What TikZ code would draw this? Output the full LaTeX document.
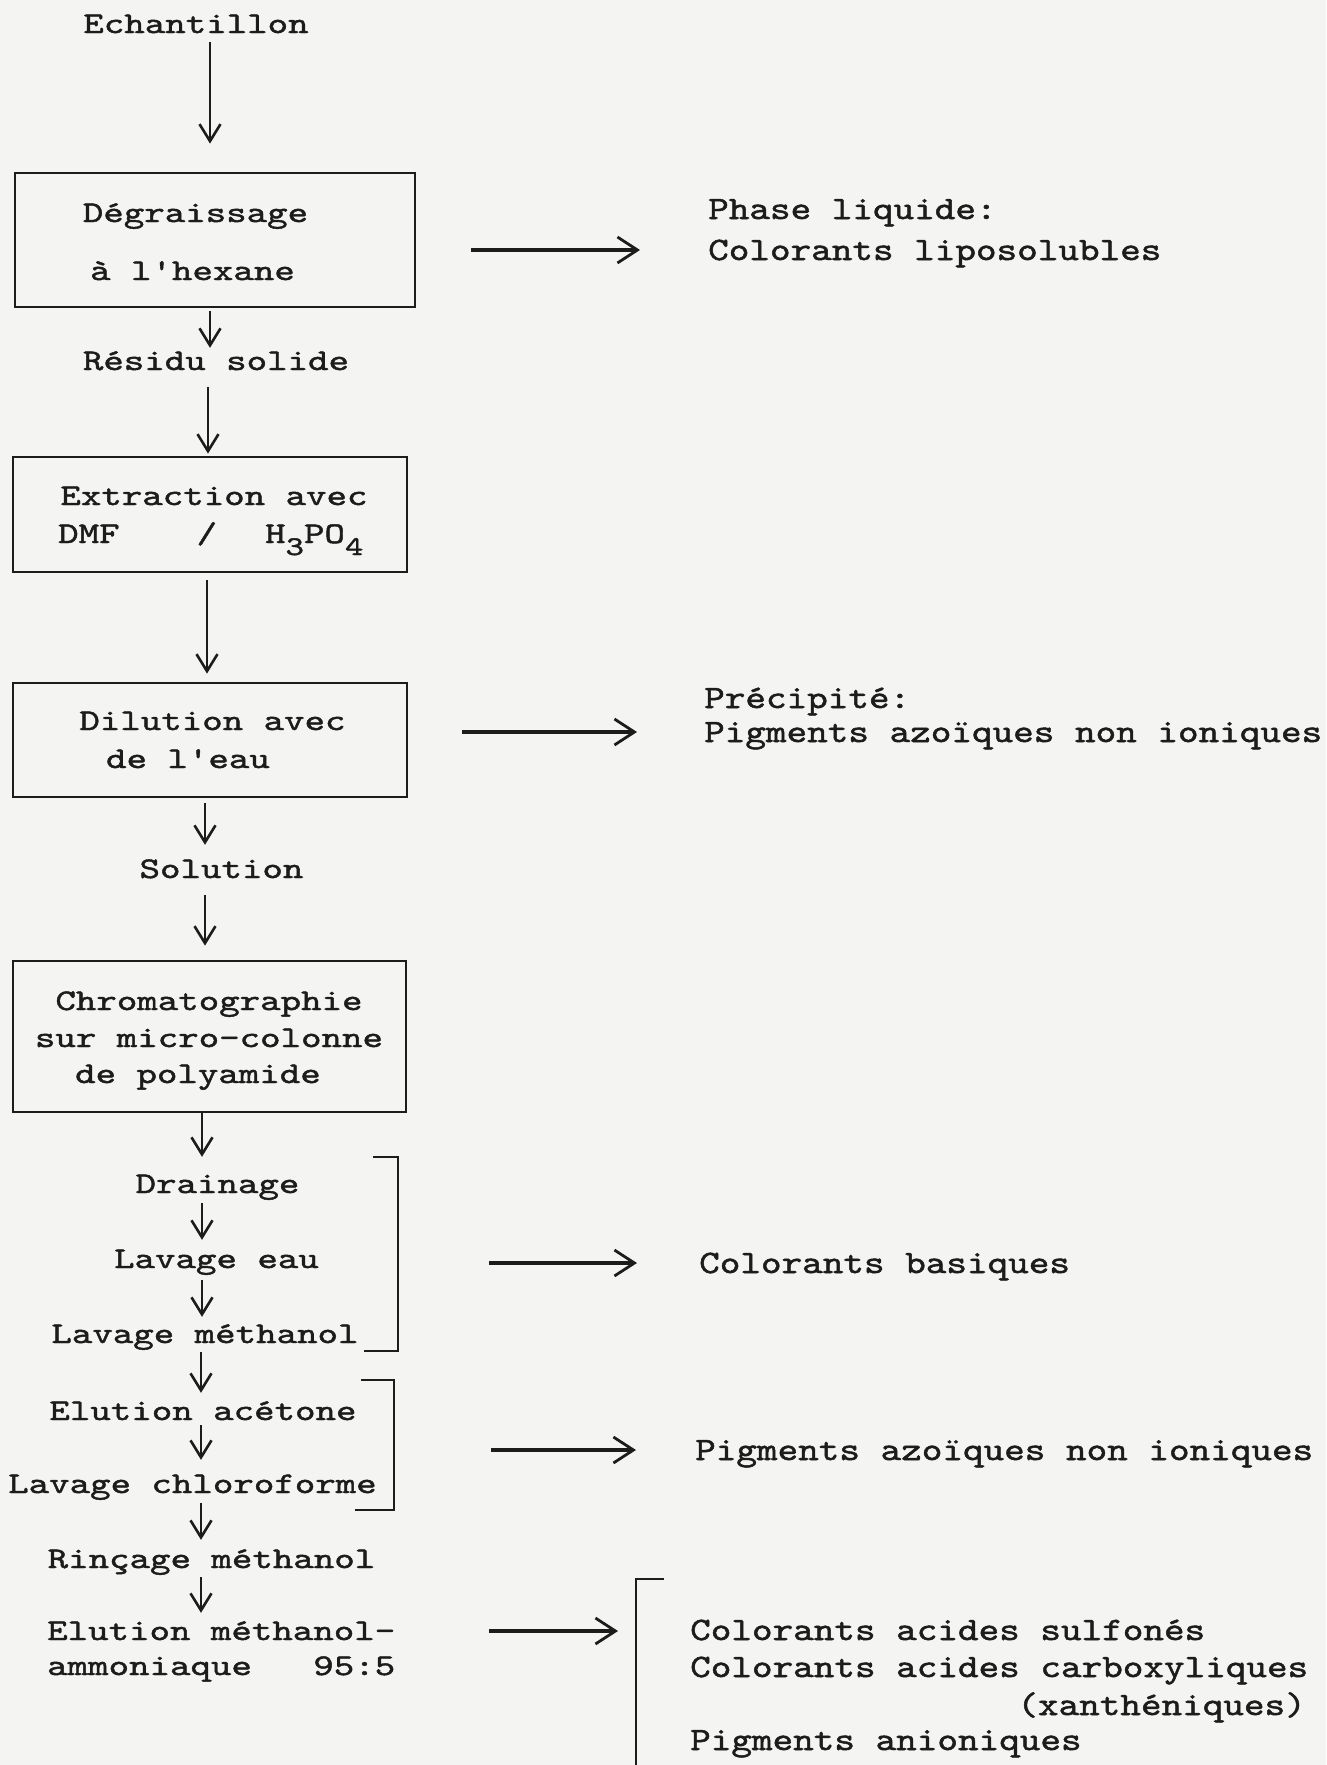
\documentclass[tikz,border=0pt]{standalone}
\usepackage{fontspec}
\usetikzlibrary{arrows.meta,calc}
\newfontfamily\twA{lmmono10-regular.otf}[FakeStretch=1.3,FakeBold=1.5]
\newfontfamily\twB{lmmono10-regular.otf}[FakeStretch=1.2,FakeBold=1.5]
\definecolor{ink}{HTML}{1C1C1C}
\definecolor{paper}{HTML}{F4F4F2}
\newcommand{\lowsub}[1]{\raisebox{-12pt}{\fontsize{27}{27}\selectfont #1}}
\tikzset{
  lt/.style={inner sep=0pt, anchor=base, text=ink, font={\twA\fontsize{30}{36}\selectfont}, text height=18pt, text depth=0pt},
  ltw/.style={lt, anchor=base west},
  rt/.style={inner sep=0pt, anchor=base west, text=ink, font={\twB\fontsize{32.7}{38}\selectfont}, text height=20pt, text depth=0pt},
  stagebox/.style={draw=ink, line width=2.8pt, inner sep=0pt},
  varr/.style={draw=ink, line width=2.6pt, -{Straight Barb[length=17pt,width=21pt,line width=2.6pt]}},
  harr/.style={draw=ink, line width=3.2pt, -{Straight Barb[length=20pt,width=26pt,line width=2.8pt]}},
  brk/.style={draw=ink, line width=2.8pt},
}
\begin{document}
\begin{tikzpicture}[x=1pt,y=-1pt]
\useasboundingbox[fill=paper] (0,0) rectangle (1326,1765);
% columns
\coordinate (cA) at (210,0);
\coordinate (cB) at (208,0);
\coordinate (cC) at (207,0);
\coordinate (cD) at (205,0);
\coordinate (cE) at (202,0);
\coordinate (cF) at (201,0);
% left column
\node[lt] (ech) at (196,33) {Echantillon};
\node[stagebox, minimum width=400pt, minimum height=134pt] (b1) at (215,240) {};
\node[lt] (deg1) at (195.5,222) {Dégraissage};
\node[lt] (deg2) at (192.5,280) {à l'hexane};
\node[lt] (res) at (216,370) {Résidu solide};
\node[stagebox, minimum width=394pt, minimum height=115pt] (b2) at (210,514.5) {};
\node[lt] (ext1) at (214,505) {Extraction avec};
\node[ltw] (ext2) at (58,543) {DMF\hspace{77pt}/\hspace{48pt}H\lowsub{3}PO\lowsub{4}};
\node[stagebox, minimum width=394pt, minimum height=114pt] (b3) at (210,740) {};
\node[lt] (dil1) at (212.5,730) {Dilution avec};
\node[lt] (dil2) at (188,768) {de l'eau};
\node[lt] (sol) at (221.5,878) {Solution};
\node[stagebox, minimum width=393pt, minimum height=151pt] (b4) at (209.5,1036.5) {};
\node[lt] (chr1) at (209,1010) {Chromatographie};
\node[lt] (chr2) at (209,1047) {sur micro-colonne};
\node[lt] (chr3) at (198,1083) {de polyamide};
\node[lt] (dra) at (217.5,1193) {Drainage};
\node[lt] (lav) at (216.5,1268) {Lavage eau};
\node[lt] (lmeth) at (205,1343) {Lavage méthanol};
\node[lt] (elac) at (203,1420) {Elution acétone};
\node[lt] (lchl) at (192.5,1493) {Lavage chloroforme};
\node[lt] (rin) at (211.5,1568) {Rinçage méthanol};
\node[ltw] (elm) at (47,1640) {Elution méthanol-};
\node[ltw] (amm) at (47,1675) {ammoniaque~~~95:5};
% right column
\node[rt] (phase) at (708,219) {Phase liquide:};
\node[rt] (lipo) at (708,260) {Colorants liposolubles};
\node[rt] (prec) at (704,708) {Précipité:};
\node[rt] (pig1) at (704,742) {Pigments azoïques non ioniques};
\node[rt] (bas) at (699,1273) {Colorants basiques};
\node[rt] (pig2) at (695,1460) {Pigments azoïques non ioniques};
\node[rt] (sulf) at (690,1640) {Colorants acides sulfonés};
\node[rt] (carb) at (690,1677) {Colorants acides carboxyliques};
\node[rt, anchor=base east] (xan) at (1306,1715) {(xanthéniques)};
\node[rt] (anio) at (690,1750) {Pigments anioniques};
% brackets
\draw[brk] (373,1157) -- (398,1157) -- (398,1351) -- (364,1351);
\draw[brk] (361,1380) -- (394,1380) -- (394,1510) -- (355,1510);
\draw[brk] (664,1579) -- (636,1579) -- (636,1770);
\coordinate (k1) at (398,1263);
\coordinate (k2) at (394,1450);
% vertical arrows
\draw[varr, shorten <=9pt, shorten >=28pt] (ech.south -| cA) -- (b1.north -| cA);
\draw[varr, shorten <=3pt, shorten >=4pt] (b1.south -| cA) -- (res.north -| cA);
\draw[varr, shorten <=17pt, shorten >=2pt] (res.south -| cB) -- (b2.north -| cB);
\draw[varr, shorten <=7pt, shorten >=8pt] (b2.south -| cC) -- (b3.north -| cC);
\draw[varr, shorten <=5pt, shorten >=15pt] (b3.south -| cD) -- (sol.north -| cD);
\draw[varr, shorten <=17pt, shorten >=14pt] (sol.south -| cD) -- (b4.north -| cD);
\draw[varr, shorten <=0pt, shorten >=18pt] (b4.south -| cE) -- (dra.north -| cE);
\draw[varr, shorten <=10pt, shorten >=10pt] (dra.south -| cE) -- (lav.north -| cE);
\draw[varr, shorten <=12pt, shorten >=8pt] (lav.south -| cE) -- (lmeth.north -| cE);
\draw[varr, shorten <=9pt, shorten >=9pt] (lmeth.south -| cF) -- (elac.north -| cF);
\draw[varr, shorten <=5pt, shorten >=15pt] (elac.south -| cF) -- (lchl.north -| cF);
\draw[varr, shorten <=10pt, shorten >=10pt] (lchl.south -| cF) -- (rin.north -| cF);
\draw[varr, shorten <=9pt, shorten >=9pt] (rin.south -| cF) -- (elm.north -| cF);
% horizontal arrows
\draw[harr, shorten <=55pt, shorten >=68pt] (b1.east |- lipo.west) -- (lipo.west);
\draw[harr, shorten <=54pt, shorten >=67pt] (b3.east |- pig1.west) -- (pig1.west);
\draw[harr, shorten <=91pt, shorten >=62pt] (k1 |- bas.west) -- (bas.west);
\draw[harr, shorten <=97pt, shorten >=59pt] (k2 |- pig2.west) -- (pig2.west);
\draw[harr, shorten <=94pt, shorten >=72pt] (elm.east) -- (sulf.west |- elm.east);
\end{tikzpicture}
\end{document}
